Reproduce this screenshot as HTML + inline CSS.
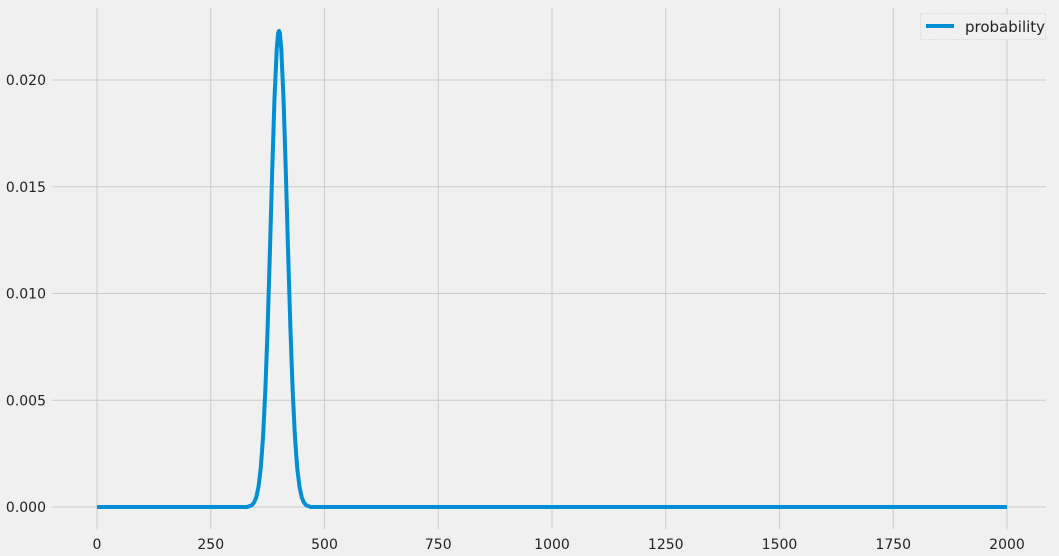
<!DOCTYPE html>
<html><head><meta charset="utf-8"><style>
body{margin:0;background:#f0f0f0;}
svg{display:block;font-family:"DejaVu Sans","Liberation Sans",sans-serif;}
</style></head><body>
<svg width="1059" height="556">
<rect width="1059" height="556" fill="#f0f0f0"/>
<g id="grid"></g>
<g id="ticks"></g>
<path id="line" fill="none" stroke="#008fd5" stroke-width="4" stroke-linejoin="round"/>
<g>
<rect x="920.5" y="13.5" width="125" height="26" fill="#f0f0f0" stroke="#cccccc" stroke-dasharray="1,2"/>
<line x1="926" y1="26" x2="954" y2="26" stroke="#008fd5" stroke-width="4"/>
<text x="965" y="32" font-size="15" fill="#222">probability</text>
</g>
</svg>
<script>
const xTicks=[0,250,500,750,1000,1250,1500,1750,2000];
const yTicks=[0,0.005,0.010,0.015,0.020];
const yTickLabels=["0.000","0.005","0.010","0.015","0.020"];
const xs=[0,300,320,330,340,345,350,355,360,365,370,375,380,385,390,395,398,400,402,405,410,415,420,425,430,435,440,445,450,455,460,470,480,500,2000];
const ps=[0,0,0,0,0.00008,0.0002,0.00045,0.00095,0.00184,0.0033,0.00548,0.0084,0.01195,0.0157,0.01908,0.02145,0.0222,0.0223,0.0222,0.02145,0.01908,0.0157,0.01195,0.0084,0.00548,0.0033,0.00184,0.00095,0.00045,0.0002,0.00008,0,0,0,0];
const X=v=>97+v*(1007-97)/2000;
const Y=v=>507-v*(507-80)/0.02;
const ns="http://www.w3.org/2000/svg";
const g=document.getElementById('grid'),t=document.getElementById('ticks');
xTicks.forEach(v=>{
 const l=document.createElementNS(ns,'line');
 
 
 l.setAttribute('x1',X(v));l.setAttribute('x2',X(v));l.setAttribute('y1',8);l.setAttribute('y2',529);
 l.setAttribute('stroke','#cbcbcb');l.setAttribute('stroke-width','1');g.appendChild(l);
 const s=document.createElementNS(ns,'text');
 
 
 s.setAttribute('x',X(v));s.setAttribute('y',549);s.setAttribute('text-anchor','middle');
 s.setAttribute('font-size','14');s.setAttribute('fill','#222');s.textContent=v;t.appendChild(s);
});
yTicks.forEach((v,i)=>{
 const l=document.createElementNS(ns,'line');
 
 
 l.setAttribute('x1',52);l.setAttribute('x2',1046);l.setAttribute('y1',Y(v));l.setAttribute('y2',Y(v));
 l.setAttribute('stroke','#cbcbcb');l.setAttribute('stroke-width','1');g.appendChild(l);
 const s=document.createElementNS(ns,'text');
 
 
 s.setAttribute('x',46);s.setAttribute('y',Y(v)+5);s.setAttribute('text-anchor','end');
 s.setAttribute('font-size','14');s.setAttribute('fill','#222');s.textContent=yTickLabels[i];t.appendChild(s);
});
let d='';
xs.forEach((v,i)=>{d+=(i?'L':'M')+X(v).toFixed(2)+','+Y(ps[i]).toFixed(2);});
document.getElementById('line').setAttribute('d',d);
</script>
</body></html>
